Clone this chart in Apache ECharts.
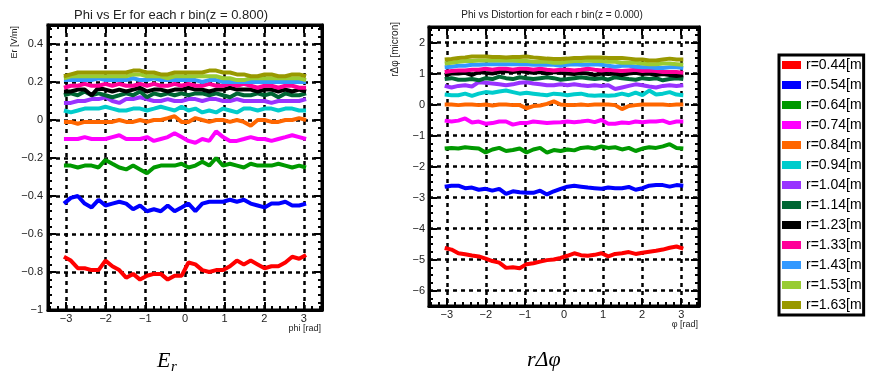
<!DOCTYPE html>
<html>
<head>
<meta charset="utf-8">
<script src="https://cdn.jsdelivr.net/npm/echarts@6/dist/echarts.min.js"></script>
<style>
    html, body { margin: 0; padding: 0; background: #fff; }
    #chart { width: 870px; height: 377px; }
</style>
</head>
<body>
<div id="chart"></div>
<script>
    // bin centres in phi [rad]
    var phi = [-3.054, -2.880, -2.705, -2.531, -2.356, -2.182, -2.007, -1.833, -1.658, -1.484, -1.309, -1.134,
        -0.960, -0.785, -0.611, -0.436, -0.262, -0.087, 0.087, 0.262, 0.436, 0.611, 0.785, 0.960,
        1.134, 1.309, 1.484, 1.658, 1.833, 2.007, 2.182, 2.356, 2.531, 2.705, 2.880, 3.054];

    var rBins = ['r=0.44[m', 'r=0.54[m', 'r=0.64[m', 'r=0.74[m', 'r=0.84[m', 'r=0.94[m', 'r=1.04[m',
        'r=1.14[m', 'r=1.23[m', 'r=1.33[m', 'r=1.43[m', 'r=1.53[m', 'r=1.63[m'];
    var colors = ['#ff0000', '#0000ff', '#009900', '#ff00ff', '#ff6600', '#00cccc', '#9933ff',
        '#006633', '#000000', '#ff0099', '#3399ff', '#99cc33', '#999900'];

    // Er [V/m], z = 0.800
    var er044 = [-0.72, -0.74, -0.78, -0.78, -0.79, -0.79, -0.74, -0.77, -0.79, -0.83, -0.81, -0.84, -0.82, -0.81, -0.81, -0.84, -0.82, -0.82, -0.75, -0.76, -0.79, -0.80, -0.79, -0.79, -0.77, -0.74, -0.76, -0.74, -0.76, -0.78, -0.77, -0.77, -0.75, -0.72, -0.73, -0.71];
    var er054 = [-0.44, -0.41, -0.40, -0.44, -0.46, -0.42, -0.45, -0.44, -0.43, -0.44, -0.47, -0.45, -0.48, -0.47, -0.48, -0.45, -0.48, -0.46, -0.44, -0.48, -0.44, -0.43, -0.43, -0.43, -0.42, -0.43, -0.42, -0.44, -0.45, -0.46, -0.44, -0.44, -0.43, -0.45, -0.45, -0.44];
    var er064 = [-0.24, -0.24, -0.25, -0.24, -0.24, -0.25, -0.21, -0.23, -0.25, -0.26, -0.24, -0.26, -0.28, -0.25, -0.24, -0.24, -0.24, -0.23, -0.25, -0.24, -0.22, -0.24, -0.20, -0.24, -0.23, -0.24, -0.25, -0.23, -0.24, -0.24, -0.24, -0.23, -0.24, -0.25, -0.24, -0.25];
    var er074 = [-0.10, -0.10, -0.10, -0.09, -0.10, -0.10, -0.10, -0.09, -0.08, -0.10, -0.10, -0.10, -0.09, -0.11, -0.10, -0.09, -0.07, -0.09, -0.11, -0.12, -0.10, -0.11, -0.06, -0.09, -0.11, -0.11, -0.10, -0.09, -0.10, -0.10, -0.11, -0.10, -0.09, -0.08, -0.09, -0.10];
    var er084 = [-0.01, -0.01, -0.02, -0.01, -0.01, -0.01, -0.01, -0.01, 0.00, -0.01, -0.01, 0.00, -0.01, 0.00, 0.00, 0.01, 0.02, -0.01, -0.01, 0.01, 0.00, -0.01, 0.00, 0.00, -0.01, 0.00, -0.01, -0.03, 0.00, 0.00, -0.01, -0.01, 0.00, 0.00, 0.01, 0.00];
    var er094 = [0.05, 0.04, 0.05, 0.06, 0.06, 0.06, 0.07, 0.06, 0.05, 0.05, 0.06, 0.06, 0.05, 0.06, 0.07, 0.06, 0.05, 0.07, 0.05, 0.06, 0.04, 0.05, 0.04, 0.06, 0.05, 0.04, 0.06, 0.06, 0.05, 0.06, 0.06, 0.05, 0.06, 0.06, 0.05, 0.05];
    var er104 = [0.09, 0.09, 0.10, 0.10, 0.11, 0.11, 0.12, 0.10, 0.09, 0.11, 0.11, 0.12, 0.11, 0.10, 0.10, 0.11, 0.10, 0.10, 0.11, 0.11, 0.10, 0.11, 0.11, 0.10, 0.10, 0.11, 0.10, 0.10, 0.10, 0.10, 0.09, 0.10, 0.10, 0.10, 0.10, 0.11];
    var er114 = [0.13, 0.14, 0.13, 0.15, 0.13, 0.14, 0.13, 0.12, 0.13, 0.14, 0.13, 0.15, 0.12, 0.14, 0.13, 0.14, 0.13, 0.14, 0.13, 0.14, 0.14, 0.13, 0.14, 0.13, 0.12, 0.14, 0.13, 0.13, 0.14, 0.13, 0.14, 0.12, 0.14, 0.13, 0.13, 0.14];
    var er123 = [0.15, 0.15, 0.16, 0.16, 0.13, 0.17, 0.16, 0.15, 0.16, 0.15, 0.16, 0.17, 0.15, 0.16, 0.16, 0.15, 0.16, 0.16, 0.17, 0.16, 0.16, 0.15, 0.16, 0.16, 0.17, 0.16, 0.16, 0.16, 0.15, 0.16, 0.16, 0.15, 0.16, 0.15, 0.16, 0.15];
    var er133 = [0.17, 0.18, 0.18, 0.19, 0.18, 0.18, 0.19, 0.18, 0.19, 0.18, 0.18, 0.19, 0.18, 0.19, 0.18, 0.18, 0.19, 0.18, 0.19, 0.18, 0.18, 0.19, 0.18, 0.18, 0.19, 0.18, 0.19, 0.18, 0.17, 0.18, 0.18, 0.17, 0.18, 0.18, 0.17, 0.17];
    var er143 = [0.21, 0.21, 0.21, 0.21, 0.21, 0.22, 0.21, 0.21, 0.21, 0.21, 0.22, 0.21, 0.21, 0.22, 0.21, 0.21, 0.21, 0.21, 0.21, 0.21, 0.20, 0.21, 0.21, 0.20, 0.20, 0.20, 0.20, 0.20, 0.20, 0.20, 0.20, 0.20, 0.20, 0.20, 0.20, 0.20];
    var er153 = [0.22, 0.23, 0.23, 0.23, 0.23, 0.23, 0.23, 0.23, 0.23, 0.23, 0.24, 0.24, 0.23, 0.23, 0.23, 0.22, 0.23, 0.23, 0.23, 0.23, 0.23, 0.23, 0.23, 0.22, 0.22, 0.21, 0.21, 0.22, 0.22, 0.22, 0.22, 0.22, 0.22, 0.22, 0.22, 0.21];
    var er163 = [0.23, 0.24, 0.25, 0.25, 0.25, 0.25, 0.25, 0.25, 0.25, 0.25, 0.26, 0.26, 0.25, 0.25, 0.24, 0.24, 0.25, 0.25, 0.25, 0.25, 0.25, 0.26, 0.26, 0.25, 0.25, 0.24, 0.24, 0.23, 0.23, 0.24, 0.24, 0.23, 0.23, 0.24, 0.24, 0.23];

    // r*dphi [micron], z = 0.000
    var rdp044 = [-4.63, -4.68, -4.80, -4.83, -4.87, -4.90, -4.97, -5.05, -5.10, -5.27, -5.25, -5.28, -5.15, -5.12, -5.07, -5.02, -5.00, -4.95, -4.88, -4.80, -4.86, -4.88, -4.85, -4.80, -4.90, -4.82, -4.80, -4.76, -4.82, -4.78, -4.75, -4.72, -4.68, -4.62, -4.58, -4.65];
    var rdp054 = [-2.65, -2.62, -2.62, -2.70, -2.68, -2.75, -2.72, -2.78, -2.72, -2.88, -2.80, -2.83, -2.85, -2.85, -2.78, -2.90, -2.80, -2.72, -2.65, -2.62, -2.65, -2.68, -2.70, -2.72, -2.68, -2.70, -2.70, -2.66, -2.75, -2.70, -2.62, -2.60, -2.60, -2.65, -2.60, -2.62];
    var rdp064 = [-1.42, -1.40, -1.42, -1.38, -1.40, -1.42, -1.55, -1.45, -1.40, -1.50, -1.47, -1.42, -1.55, -1.45, -1.40, -1.55, -1.47, -1.50, -1.45, -1.48, -1.40, -1.38, -1.42, -1.35, -1.40, -1.38, -1.45, -1.40, -1.50, -1.42, -1.38, -1.40, -1.35, -1.28, -1.40, -1.42];
    var rdp074 = [-0.52, -0.55, -0.52, -0.45, -0.58, -0.55, -0.62, -0.60, -0.55, -0.55, -0.65, -0.60, -0.60, -0.55, -0.57, -0.60, -0.58, -0.57, -0.55, -0.57, -0.55, -0.52, -0.57, -0.50, -0.62, -0.62, -0.58, -0.60, -0.55, -0.57, -0.55, -0.55, -0.52, -0.60, -0.55, -0.55];
    var rdp084 = [0.00, 0.00, -0.02, 0.00, 0.00, -0.02, 0.00, -0.03, 0.00, 0.00, -0.02, -0.02, -0.12, -0.05, -0.03, 0.02, 0.10, 0.00, -0.02, -0.02, 0.00, -0.02, 0.00, 0.00, 0.00, -0.02, -0.15, -0.05, -0.02, 0.00, 0.00, 0.00, 0.00, -0.02, 0.00, 0.00];
    var rdp094 = [0.32, 0.30, 0.30, 0.35, 0.28, 0.35, 0.40, 0.38, 0.42, 0.45, 0.40, 0.35, 0.38, 0.35, 0.32, 0.30, 0.35, 0.33, 0.30, 0.33, 0.35, 0.30, 0.28, 0.30, 0.28, 0.30, 0.35, 0.30, 0.38, 0.30, 0.45, 0.32, 0.35, 0.40, 0.32, 0.30];
    var rdp104 = [0.60, 0.55, 0.60, 0.62, 0.58, 0.72, 0.70, 0.68, 0.65, 0.62, 0.65, 0.70, 0.72, 0.68, 0.65, 0.62, 0.62, 0.65, 0.62, 0.65, 0.62, 0.60, 0.62, 0.60, 0.62, 0.50, 0.55, 0.60, 0.65, 0.62, 0.58, 0.55, 0.60, 0.62, 0.60, 0.62];
    var rdp114 = [0.82, 0.85, 0.80, 0.80, 0.82, 0.78, 0.85, 0.82, 0.90, 0.85, 0.82, 0.88, 0.85, 0.82, 0.85, 0.88, 0.85, 0.80, 0.82, 0.85, 0.88, 0.85, 0.82, 0.85, 0.80, 0.88, 0.85, 0.82, 0.80, 0.85, 0.82, 0.85, 0.78, 0.82, 0.85, 0.82];
    var rdp123 = [0.95, 1.00, 1.00, 1.02, 0.95, 1.05, 1.02, 1.00, 1.05, 1.08, 1.05, 1.08, 1.05, 1.02, 1.05, 1.00, 1.05, 1.02, 1.00, 0.98, 1.02, 1.00, 0.95, 1.00, 0.98, 1.00, 0.95, 1.00, 1.02, 0.98, 1.00, 0.95, 0.98, 0.95, 0.92, 0.95];
    var rdp133 = [1.05, 1.08, 1.10, 1.10, 1.12, 1.12, 1.15, 1.12, 1.15, 1.15, 1.12, 1.15, 1.15, 1.12, 1.15, 1.12, 1.10, 1.12, 1.12, 1.10, 1.12, 1.15, 1.12, 1.10, 1.12, 1.10, 1.08, 1.10, 1.12, 1.08, 1.10, 1.08, 1.05, 1.05, 1.05, 1.02];
    var rdp143 = [1.20, 1.22, 1.25, 1.25, 1.28, 1.28, 1.30, 1.30, 1.30, 1.30, 1.30, 1.30, 1.30, 1.28, 1.28, 1.28, 1.28, 1.25, 1.28, 1.30, 1.28, 1.28, 1.30, 1.28, 1.25, 1.22, 1.25, 1.25, 1.22, 1.20, 1.20, 1.18, 1.18, 1.20, 1.20, 1.18];
    var rdp153 = [1.32, 1.35, 1.38, 1.40, 1.40, 1.42, 1.42, 1.42, 1.42, 1.42, 1.42, 1.40, 1.40, 1.38, 1.38, 1.38, 1.35, 1.35, 1.38, 1.40, 1.40, 1.42, 1.40, 1.40, 1.38, 1.38, 1.35, 1.35, 1.35, 1.32, 1.30, 1.30, 1.32, 1.32, 1.30, 1.28];
    var rdp163 = [1.45, 1.47, 1.50, 1.52, 1.55, 1.55, 1.55, 1.53, 1.53, 1.52, 1.53, 1.53, 1.55, 1.52, 1.50, 1.48, 1.47, 1.47, 1.48, 1.50, 1.50, 1.52, 1.52, 1.52, 1.50, 1.50, 1.50, 1.48, 1.45, 1.45, 1.42, 1.42, 1.45, 1.48, 1.45, 1.45];

    var erData = [er044, er054, er064, er074, er084, er094, er104, er114, er123, er133, er143, er153, er163];
    var rdpData = [rdp044, rdp054, rdp064, rdp074, rdp084, rdp094, rdp104, rdp114, rdp123, rdp133, rdp143, rdp153, rdp163];

    var font = '"Liberation Sans", Arial, sans-serif';
    var phiMax = 3.456;

    function minus(v) {
        return String(v).replace('-', '\u2212');
    }

    function pairs(vals) {
        var out = [];
        for (var i = 0; i < vals.length; i++) {
            out.push([phi[i], vals[i]]);
        }
        return out;
    }

    // ROOT-like frame axis: ticks inside, dashed grid on main axes only
    function frameAxis(grid, pos, main, extra) {
        var ax = {
            type: 'value',
            gridIndex: grid,
            position: pos,
            axisLine: {show: true, onZero: false, lineStyle: {color: '#000', width: 3}},
            axisTick: {show: true, inside: true, length: 8, lineStyle: {color: '#000', width: 2}},
            minorTick: {show: true, splitNumber: 5, length: 4, lineStyle: {color: '#000', width: 2}},
            splitLine: {show: main, lineStyle: {color: '#000', width: 2.5, type: [4, 4]}},
            axisLabel: {
                show: main, color: '#222', fontSize: 11, fontFamily: font,
                showMinLabel: false, showMaxLabel: false, formatter: minus
            }
        };
        for (var k in extra) {
            ax[k] = extra[k];
        }
        return ax;
    }

    var xAxes = [
        frameAxis(0, 'bottom', true, {min: -phiMax, max: phiMax, splitNumber: 7}),
        frameAxis(0, 'top', false, {min: -phiMax, max: phiMax, splitNumber: 7}),
        frameAxis(1, 'bottom', true, {min: -phiMax, max: phiMax, splitNumber: 7}),
        frameAxis(1, 'top', false, {min: -phiMax, max: phiMax, splitNumber: 7})
    ];
    xAxes[0].axisLabel.margin = 3;
    xAxes[2].axisLabel.margin = 3;

    var yAxes = [
        frameAxis(0, 'left', true, {min: -1, max: 0.5, interval: 0.2}),
        frameAxis(0, 'right', false, {min: -1, max: 0.5, interval: 0.2}),
        frameAxis(1, 'left', true, {min: -6.5, max: 2.5, splitNumber: 9}),
        frameAxis(1, 'right', false, {min: -6.5, max: 2.5, splitNumber: 9})
    ];
    yAxes[0].axisLabel.showMinLabel = true;
    yAxes[0].axisLabel.margin = 5;
    yAxes[2].axisLabel.margin = 4;
    yAxes[2].minorTick.splitNumber = 4;
    yAxes[3].minorTick.splitNumber = 4;

    var series = [];
    for (var i = 0; i < rBins.length; i++) {
        series.push({
            name: rBins[i], type: 'line', xAxisIndex: 0, yAxisIndex: 0,
            symbol: 'none', color: colors[i],
            lineStyle: {width: 4, color: colors[i]},
            data: pairs(erData[i])
        });
    }
    for (var j = 0; j < rBins.length; j++) {
        series.push({
            name: rBins[j], type: 'line', xAxisIndex: 2, yAxisIndex: 2,
            symbol: 'none', color: colors[j],
            lineStyle: {width: 4, color: colors[j]},
            data: pairs(rdpData[j])
        });
    }

    var chart = echarts.init(document.getElementById('chart'));
    chart.setOption({
        animation: false,
        backgroundColor: '#fff',
        title: [
            {
                text: 'Phi vs Er for each r bin(z = 0.800)', left: 166, top: 4, textAlign: 'center',
                textStyle: {fontSize: 13, fontWeight: 'normal', color: '#222', fontFamily: font}
            },
            {
                text: 'Phi vs Distortion for each r bin(z = 0.000)', left: 547, top: 5, textAlign: 'center',
                textStyle: {fontSize: 10, fontWeight: 'normal', color: '#222', fontFamily: font}
            }
        ],
        grid: [
            {left: 48, top: 25, width: 274, height: 285, show: true, borderColor: '#000', borderWidth: 3},
            {left: 429, top: 27, width: 270, height: 279, show: true, borderColor: '#000', borderWidth: 3}
        ],
        legend: {
            data: rBins,
            orient: 'vertical',
            left: 779, top: 55,
            padding: [3, 2, 3, 3],
            icon: 'rect',
            itemWidth: 19, itemHeight: 8,
            itemGap: 6,
            selectedMode: false,
            borderColor: '#000', borderWidth: 3,
            backgroundColor: '#fff',
            textStyle: {color: '#000', fontSize: 14, lineHeight: 14, fontFamily: font}
        },
        xAxis: xAxes,
        yAxis: yAxes,
        series: series,
        graphic: [
            {type: 'text', x: 15, y: 26, rotation: Math.PI / 2,
                style: {text: 'Er [V/m]', font: '9px ' + font, fill: '#222', align: 'right', verticalAlign: 'middle'}},
            {type: 'text', x: 395, y: 22, rotation: Math.PI / 2,
                style: {text: 'r\u0394\u03c6 [micron]', font: '10px ' + font, fill: '#222', align: 'right', verticalAlign: 'middle'}},
            {type: 'text', x: 321, y: 329,
                style: {text: 'phi [rad]', font: '9px ' + font, fill: '#222', align: 'right', verticalAlign: 'middle'}},
            {type: 'text', x: 698, y: 325,
                style: {text: '\u03c6 [rad]', font: '9px ' + font, fill: '#222', align: 'right', verticalAlign: 'middle'}},
            {type: 'text', x: 157, y: 361,
                style: {text: 'E', font: 'italic 22px "Liberation Serif", serif', fill: '#000', align: 'left', verticalAlign: 'middle'}},
            {type: 'text', x: 171, y: 367,
                style: {text: 'r', font: 'italic 15px "Liberation Serif", serif', fill: '#000', align: 'left', verticalAlign: 'middle'}},
            {type: 'text', x: 527, y: 360,
                style: {text: 'r\u0394\u03c6', font: 'italic 22px "Liberation Serif", serif', fill: '#000', align: 'left', verticalAlign: 'middle'}}
        ]
    });
</script>
</body>
</html>
